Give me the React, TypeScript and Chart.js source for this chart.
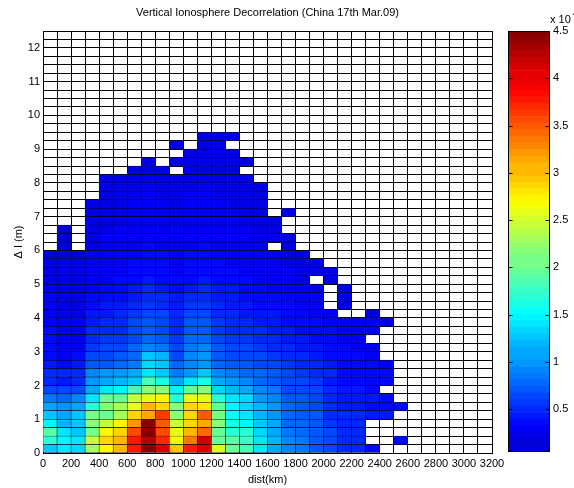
import React, { useEffect, useRef } from 'react';
import { Chart, registerables } from 'chart.js';

Chart.register(...registerables);

const FONT_FAMILY = "'Liberation Sans', Arial, Helvetica, sans-serif";
const TITLE = 'Vertical Ionosphere Decorrelation (China 17th Mar.09)';
const X_LABEL = 'dist(km)';
const Y_LABEL = 'Δ I (m)';

const COL_WIDTH = 100; // km per cell
const ROW_HEIGHT = 0.25; // m per cell
const X_MAX = 3200;
const Y_MAX = 12.5;

const X_TICK_LABELS = [0, 200, 400, 600, 800, 1000, 1200, 1400, 1600, 1800, 2000, 2200, 2400, 2600, 2800, 3000, 3200];
const Y_TICK_LABELS = [0, 1, 2, 3, 4, 5, 6, 7, 8, 9, 10, 11, 12];
const COLORBAR_TICKS = [0.5, 1, 1.5, 2, 2.5, 3, 3.5, 4, 4.5];
const COLORBAR_MIN = 0.045;
const COLORBAR_MAX = 4.5;
const CMAP_MIN = -0.3;
const CMAP_MAX = 4.5;

const _ = null;
// each row: values (x 10^-4) for distance cells 0-100, 100-200, ... km
const row00 = [1.25, 1.35, 1.3, 2.3, 2.7, 3.0, 3.8, 4.45, 4.05, 2.95, 3.8, 4.05, 2.5, 1.95, 1.8, 1.4, 1.1, 0.9, 0.85, 0.7, 0.65, 0.5, 0.45, 0.35];
const row01 = [1.7, 1.45, 1.35, 2.4, 2.9, 3.05, 3.8, 4.25, 3.7, 2.7, 3.35, 4.1, 1.95, 1.9, 1.75, 1.4, 1.15, 0.9, 0.85, 0.7, 0.65, 0.5, 0.45, _, _, 0.35];
const row02 = [1.9, 1.35, 1.25, 2.05, 2.75, 2.9, 3.55, 4.45, 3.55, 2.6, 3.0, 3.4, 1.95, 1.7, 1.7, 1.3, 1.1, 0.85, 0.8, 0.7, 0.6, 0.5, 0.45];
const row03 = [1.45, 1.15, 1.25, 2.1, 2.45, 2.75, 3.2, 4.45, 3.5, 2.45, 2.85, 3.1, 2.15, 1.6, 1.45, 1.25, 1.1, 0.8, 0.75, 0.68, 0.55, 0.45, 0.45];
const row04 = [1.25, 1.1, 1.2, 2.05, 2.0, 2.3, 2.85, 3.1, 3.6, 2.1, 2.85, 3.45, 2.05, 1.5, 1.4, 1.15, 1.0, 0.8, 0.7, 0.68, 0.5, 0.45, 0.45, 0.4, 0.4];
const row05 = [1.05, 1.0, 1.05, 1.7, 2.1, 2.3, 2.6, 3.05, 2.85, 2.15, 2.9, 2.8, 1.95, 1.45, 1.3, 1.15, 1.0, 0.75, 0.68, 0.65, 0.5, 0.4, 0.4, 0.35, 0.35, 0.3];
const row06 = [0.85, 0.8, 0.9, 1.4, 1.95, 2.0, 2.4, 2.6, 2.75, 1.7, 2.55, 2.6, 1.7, 1.35, 1.3, 1.0, 0.9, 0.7, 0.68, 0.65, 0.45, 0.4, 0.4, 0.4, 0.35];
const row07 = [0.6, 0.6, 0.65, 1.1, 1.35, 1.45, 1.8, 2.1, 2.15, 1.45, 2.0, 2.15, 1.3, 1.15, 1.1, 0.9, 0.85, 0.65, 0.65, 0.6, 0.45, 0.4, 0.4, 0.35];
const row08 = [0.45, 0.4, 0.45, 1.0, 1.1, 1.15, 1.25, 1.85, 1.6, 1.1, 1.35, 1.6, 1.1, 1.0, 0.9, 0.8, 0.7, 0.6, 0.6, 0.55, 0.4, 0.35, 0.35, 0.35, 0.3];
const row09 = [0.5, 0.45, 0.5, 0.95, 1.0, 1.0, 1.1, 1.35, 1.2, 0.85, 1.0, 1.25, 0.95, 0.85, 0.8, 0.75, 0.68, 0.6, 0.55, 0.5, 0.45, 0.35, 0.35, 0.35, 0.3];
const row10 = [0.39, 0.34, 0.39, 0.68, 0.72, 0.77, 0.86, 1.29, 1.24, 0.77, 0.96, 1.0, 0.77, 0.72, 0.7, 0.65, 0.6, 0.55, 0.5, 0.45, 0.38, 0.33, 0.32, 0.3, 0.28];
const row11 = [0.33, 0.28, 0.3, 0.62, 0.66, 0.7, 0.8, 1.2, 1.15, 0.66, 0.95, 1.0, 0.7, 0.66, 0.62, 0.6, 0.55, 0.5, 0.45, 0.42, 0.36, 0.32, 0.3, 0.28];
const row12 = [0.32, 0.27, 0.28, 0.58, 0.62, 0.66, 0.75, 0.95, 0.85, 0.66, 0.85, 0.9, 0.72, 0.66, 0.6, 0.55, 0.5, 0.46, 0.42, 0.4, 0.34, 0.3, 0.28, 0.27];
const row13 = [0.3, 0.25, 0.26, 0.5, 0.55, 0.58, 0.66, 0.82, 0.72, 0.56, 0.77, 0.82, 0.62, 0.58, 0.55, 0.5, 0.46, 0.42, 0.4, 0.36, 0.32, 0.28, 0.26];
const row14 = [0.3, 0.24, 0.25, 0.45, 0.5, 0.52, 0.6, 0.72, 0.66, 0.5, 0.72, 0.72, 0.56, 0.52, 0.5, 0.46, 0.42, 0.4, 0.36, 0.33, 0.3, 0.27, 0.25, 0.24];
const row15 = [0.28, 0.22, 0.23, 0.42, 0.48, 0.5, 0.6, 0.68, 0.62, 0.5, 0.68, 0.68, 0.55, 0.5, 0.46, 0.42, 0.4, 0.36, 0.34, 0.3, 0.28, 0.26, 0.24, 0.23, 0.22];
const row16 = [0.27, 0.22, 0.22, 0.38, 0.42, 0.45, 0.56, 0.66, 0.6, 0.48, 0.66, 0.66, 0.5, 0.46, 0.44, 0.4, 0.38, 0.34, 0.32, 0.28, 0.26, _, _, 0.22];
const row17 = [0.26, 0.2, 0.21, 0.35, 0.38, 0.4, 0.48, 0.58, 0.52, 0.42, 0.58, 0.58, 0.45, 0.42, 0.4, 0.36, 0.34, 0.3, 0.28, 0.26, _, 0.22];
const row18 = [0.25, 0.18, 0.19, 0.32, 0.35, 0.36, 0.44, 0.5, 0.45, 0.38, 0.5, 0.5, 0.42, 0.4, 0.36, 0.33, 0.3, 0.28, 0.26, 0.24, _, 0.2];
const row19 = [0.24, 0.18, 0.18, 0.28, 0.32, 0.33, 0.38, 0.45, 0.4, 0.33, 0.4, 0.45, 0.38, 0.38, 0.33, 0.3, 0.28, 0.26, 0.24, 0.22, _, 0.2];
const row20 = [0.22, 0.17, 0.17, 0.26, 0.28, 0.3, 0.34, 0.4, 0.36, 0.3, 0.36, 0.38, 0.34, 0.32, 0.3, 0.28, 0.26, 0.24, 0.22, _, 0.2];
const row21 = [0.21, 0.16, 0.16, 0.25, 0.27, 0.28, 0.32, 0.36, 0.33, 0.28, 0.34, 0.35, 0.32, 0.3, 0.28, 0.26, 0.25, 0.23, 0.21, 0.2, 0.19];
const row22 = [0.2, 0.15, 0.15, 0.24, 0.26, 0.27, 0.3, 0.34, 0.31, 0.27, 0.32, 0.33, 0.3, 0.29, 0.27, 0.25, 0.24, 0.22, 0.2, 0.19];
const row23 = [0.19, 0.14, 0.15, 0.23, 0.25, 0.26, 0.29, 0.32, 0.3, 0.26, 0.3, 0.31, 0.29, 0.28, 0.26, 0.24, 0.23, 0.21, 0.19];
const row24 = [_, 0.14, _, 0.22, 0.24, 0.25, 0.28, 0.3, 0.28, 0.25, 0.29, 0.3, 0.28, 0.27, 0.25, 0.23, _, 0.2];
const row25 = [_, 0.13, _, 0.21, 0.23, 0.24, 0.27, 0.29, 0.27, 0.24, 0.28, 0.29, 0.27, 0.26, 0.24, 0.22, 0.21, 0.19];
const row26 = [_, 0.13, _, 0.2, 0.22, 0.23, 0.26, 0.28, 0.26, 0.23, 0.27, 0.28, 0.26, 0.25, 0.23, 0.21, 0.2];
const row27 = [_, _, _, 0.19, 0.21, 0.22, 0.25, 0.27, 0.25, 0.22, 0.26, 0.27, 0.25, 0.24, 0.22, 0.2, 0.19];
const row28 = [_, _, _, 0.18, 0.2, 0.21, 0.24, 0.26, 0.24, 0.21, 0.25, 0.26, 0.24, 0.23, 0.21, 0.2, _, 0.18];
const row29 = [_, _, _, 0.17, 0.19, 0.2, 0.23, 0.25, 0.23, 0.2, 0.24, 0.25, 0.23, 0.22, 0.2, 0.19];
const row30 = [_, _, _, _, 0.18, 0.19, 0.22, 0.24, 0.22, 0.2, 0.23, 0.24, 0.22, 0.21, 0.2, 0.18];
const row31 = [_, _, _, _, 0.17, 0.18, 0.21, 0.23, 0.21, 0.19, 0.22, 0.23, 0.21, 0.2, 0.19, 0.17];
const row32 = [_, _, _, _, 0.16, 0.17, 0.2, 0.22, 0.2, 0.18, 0.21, 0.22, 0.2, 0.19, 0.18];
const row33 = [_, _, _, _, _, _, 0.19, 0.21, 0.19, _, 0.2, 0.21, 0.19, 0.18];
const row34 = [_, _, _, _, _, _, _, 0.2, _, 0.18, 0.19, 0.2, 0.19, 0.18, 0.17];
const row35 = [_, _, _, _, _, _, _, _, _, _, 0.18, 0.19, 0.18, 0.17];
const row36 = [_, _, _, _, _, _, _, _, _, 0.17, _, 0.18, 0.17];
const row37 = [_, _, _, _, _, _, _, _, _, _, _, 0.17, 0.18, 0.17];

const ROWS = [
  row00, row01, row02, row03, row04, row05, row06, row07, row08, row09,
  row10, row11, row12, row13, row14, row15, row16, row17, row18, row19,
  row20, row21, row22, row23, row24, row25, row26, row27, row28, row29,
  row30, row31, row32, row33, row34, row35, row36, row37,
];

function jet(v: number): string {
  const t0 = (v - CMAP_MIN) / (CMAP_MAX - CMAP_MIN);
  const i = Math.max(0, Math.min(63, Math.floor(t0 * 64)));
  const t = (i + 0.5) / 64;
  const cl = (x: number) => Math.max(0, Math.min(1, x));
  const r = cl(1.5 - Math.abs(4 * t - 3));
  const g = cl(1.5 - Math.abs(4 * t - 2));
  const b = cl(1.5 - Math.abs(4 * t - 1));
  return `rgb(${Math.round(r * 255)},${Math.round(g * 255)},${Math.round(b * 255)})`;
}

const font = { family: FONT_FAMILY, size: 11, weight: 'normal' as const };

const colorbarFrame = {
  id: 'colorbarFrame',
  afterDraw(chart: any) {
    const { ctx, chartArea: a, scales } = chart;
    const y = scales.y;
    ctx.save();
    ctx.globalCompositeOperation = 'source-over';
    ctx.strokeStyle = '#000';
    ctx.lineWidth = 1;
    const l = Math.round(a.left) + 0.5;
    const r = Math.round(a.right) - 0.5;
    const t = Math.round(a.top) + 0.5;
    const b = Math.round(a.bottom) - 0.5;
    ctx.strokeRect(l, t, r - l, b - t);
    ctx.beginPath();
    COLORBAR_TICKS.forEach((v) => {
      const py = Math.round(y.getPixelForValue(v)) + 0.5;
      ctx.moveTo(l, py);
      ctx.lineTo(l + 4, py);
      ctx.moveTo(r - 4, py);
      ctx.lineTo(r, py);
    });
    ctx.stroke();
    ctx.fillStyle = '#000';
    ctx.textBaseline = 'alphabetic';
    ctx.textAlign = 'left';
    ctx.font = `11px ${FONT_FAMILY}`;
    const label = 'x 10';
    ctx.fillText(label, a.right, a.top - 8);
    const w = ctx.measureText(label).width;
    ctx.font = `8px ${FONT_FAMILY}`;
    ctx.fillText('4', a.right + w + 2, a.top - 15);
    ctx.restore();
  },
};

export default function App() {
  const mainRef = useRef<HTMLCanvasElement>(null);
  const barRef = useRef<HTMLCanvasElement>(null);

  useEffect(() => {
    const datasets = ROWS.map((row, r) => {
      const pts: any[] = [];
      row.forEach((v, c) => {
        if (v !== null && v !== undefined) {
          pts.push({ x: c * COL_WIDTH + COL_WIDTH / 2, y: [r * ROW_HEIGHT, (r + 1) * ROW_HEIGHT], v });
        }
      });
      return {
        data: pts,
        backgroundColor: pts.map((p) => jet(p.v)),
        // cell edges: half a pixel on each side, so neighbouring cells share a 1px dark line
        borderColor: '#000',
        borderWidth: { top: 0.55, right: 0.55, bottom: 0.55, left: 0.55 },
        borderSkipped: false,
        barPercentage: 1,
        categoryPercentage: 1,
        grouped: false,
      };
    });

    const main = new Chart(mainRef.current as HTMLCanvasElement, {
      type: 'bar',
      data: { datasets: datasets as any },
      options: {
        animation: false,
        responsive: false,
        devicePixelRatio: 1,
        events: [],
        layout: { padding: { left: 0, right: 82, top: 0, bottom: 0 } },
        plugins: {
          legend: { display: false },
          tooltip: { enabled: false },
          title: {
            display: true,
            text: TITLE,
            fullSize: false,
            color: '#000',
            font,
            padding: { top: 6, bottom: 11.8 },
          },
        },
        scales: {
          x: {
            type: 'linear',
            min: 0,
            max: X_MAX,
            offset: false,
            grid: { color: '#050505', lineWidth: 1, drawTicks: false, offset: false },
            border: { color: '#000', width: 1 },
            ticks: {
              stepSize: COL_WIDTH,
              autoSkip: false,
              maxRotation: 0,
              minRotation: 0,
              color: '#000',
              font,
              padding: 4,
              callback: (v: any) => (X_TICK_LABELS.includes(Number(v)) ? String(v) : ''),
            },
            title: { display: true, text: X_LABEL, color: '#000', font, padding: { top: 0, bottom: 1.5 } },
            afterFit: (s: any) => { s.height = 35; },
          },
          y: {
            type: 'linear',
            min: 0,
            max: Y_MAX,
            grid: { color: '#050505', lineWidth: 1, drawTicks: false },
            border: { color: '#000', width: 1 },
            ticks: {
              stepSize: ROW_HEIGHT,
              autoSkip: false,
              color: '#000',
              font,
              padding: 3,
              callback: (v: any) => (Y_TICK_LABELS.includes(Number(v)) ? String(v) : ''),
            },
            title: { display: true, text: Y_LABEL, color: '#000', font, padding: { top: 12.4, bottom: 0 } },
            afterFit: (s: any) => { s.width = 43; },
          },
        },
      } as any,
    });

    const bands: { lo: number; hi: number; mid: number }[] = [];
    const nb = 64;
    for (let i = 0; i < nb; i++) {
      const lo = COLORBAR_MIN + ((COLORBAR_MAX - COLORBAR_MIN) * i) / nb;
      const hi = COLORBAR_MIN + ((COLORBAR_MAX - COLORBAR_MIN) * (i + 1)) / nb;
      bands.push({ lo, hi, mid: (lo + hi) / 2 });
    }

    const cb = new Chart(barRef.current as HTMLCanvasElement, {
      type: 'bar',
      data: {
        labels: [''],
        datasets: bands.map((b) => ({
          data: [[b.lo, b.hi]],
          backgroundColor: jet(b.mid),
          borderWidth: 0,
          barPercentage: 1,
          categoryPercentage: 1,
          grouped: false,
        })) as any,
      },
      options: {
        animation: false,
        responsive: false,
        devicePixelRatio: 1,
        events: [],
        layout: { padding: { left: 8, right: 0, top: 31, bottom: 36 } },
        plugins: { legend: { display: false }, tooltip: { enabled: false }, title: { display: false } },
        scales: {
          x: { display: false },
          y: {
            position: 'right',
            min: COLORBAR_MIN,
            max: COLORBAR_MAX,
            grid: { display: false, drawTicks: false },
            border: { display: false },
            afterBuildTicks: (s: any) => { s.ticks = COLORBAR_TICKS.map((value) => ({ value })); },
            ticks: { color: '#000', font, padding: 3, callback: (v: any) => String(v) },
            afterFit: (s: any) => { s.width = 24; },
          },
        },
      } as any,
      plugins: [colorbarFrame],
    });

    return () => {
      main.destroy();
      cb.destroy();
    };
  }, []);

  return (
    <div style={{ position: 'absolute', left: 0, top: 0, width: 574, height: 488, background: '#fff', overflow: 'hidden' }}>
      <canvas ref={mainRef} width={574} height={488} style={{ position: 'absolute', left: 0, top: 0, width: 574, height: 488 }} />
      <canvas ref={barRef} width={74} height={488} style={{ position: 'absolute', left: 500, top: 0, width: 74, height: 488 }} />
    </div>
  );
}
